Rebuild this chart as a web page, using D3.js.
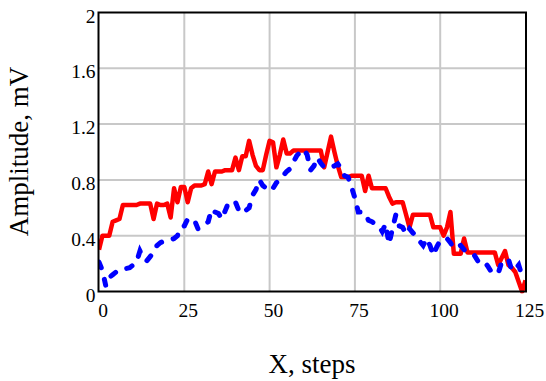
<!DOCTYPE html>
<html>
<head>
<meta charset="utf-8">
<script src="https://cdn.jsdelivr.net/npm/d3@7/dist/d3.min.js"></script>
<style>
  body { margin: 0; background: #fff; }
  svg text { font-family: "Liberation Serif", "Times New Roman", serif; fill: #000; }
</style>
</head>
<body>
<div id="chart"></div>
<script>
// signal amplitudes (mV) per step
var redSeries = [
  0.30, 0.40, 0.40, 0.40, 0.50, 0.51, 0.52, 0.62, 0.62, 0.62,
  0.62, 0.62, 0.63, 0.63, 0.63, 0.63, 0.52, 0.63, 0.62, 0.62,
  0.63, 0.53, 0.74, 0.64, 0.75, 0.75, 0.64, 0.74, 0.76, 0.76,
  0.76, 0.77, 0.86, 0.77, 0.86, 0.86, 0.86, 0.87, 0.87, 0.87,
  0.96, 0.87, 0.97, 0.97, 1.08, 0.98, 0.90, 0.87, 0.87, 0.98,
  1.08, 1.07, 0.89, 0.98, 1.09, 0.99, 0.99, 1.01, 1.01, 1.01,
  1.01, 1.01, 1.01, 1.01, 1.01, 1.01, 0.89, 1.00, 1.11, 1.00,
  0.90, 0.82, 0.82, 0.82, 0.83, 0.83, 0.83, 0.83, 0.72, 0.83,
  0.74, 0.74, 0.74, 0.74, 0.74, 0.68, 0.63, 0.64, 0.64, 0.64,
  0.55, 0.46, 0.55, 0.55, 0.55, 0.55, 0.55, 0.55, 0.46, 0.46,
  0.46, 0.40, 0.46, 0.57, 0.27, 0.27, 0.27, 0.38, 0.28, 0.28,
  0.28, 0.28, 0.28, 0.28, 0.28, 0.28, 0.28, 0.19, 0.24, 0.29,
  0.19, 0.17, 0.14, 0.07, 0.00, 0.08
];
var blueSeries = [
  0.21, 0.15, 0.04, 0.10, 0.12, 0.14, 0.155, 0.16, 0.165, 0.17,
  0.19, 0.21, 0.29, 0.24, 0.22, 0.25, 0.28, 0.33, 0.35, 0.36,
  0.365, 0.37, 0.38, 0.40, 0.46, 0.47, 0.52, 0.52, 0.51, 0.45,
  0.46, 0.48, 0.50, 0.59, 0.57, 0.56, 0.52, 0.58, 0.64, 0.64,
  0.64, 0.58, 0.56, 0.58, 0.60, 0.69, 0.73, 0.80, 0.76, 0.74,
  0.72, 0.74, 0.78, 0.80, 0.83, 0.86, 0.88, 0.93, 0.975, 1.00,
  1.02, 0.98, 0.87, 0.90, 0.96, 0.92, 0.89, 0.89, 0.89, 0.90,
  0.915, 0.88, 0.83, 0.82, 0.75, 0.67, 0.57, 0.57, 0.56, 0.51,
  0.50, 0.485, 0.47, 0.43, 0.485, 0.34, 0.45, 0.55, 0.47, 0.46,
  0.41, 0.45, 0.42, 0.40, 0.36, 0.33, 0.38, 0.33, 0.26, 0.32,
  0.365, 0.37, 0.38, 0.35, 0.31, 0.32, 0.33, 0.30, 0.28, 0.27,
  0.26, 0.22, 0.20, 0.21, 0.18, 0.14, 0.14, 0.13, 0.21, 0.22,
  0.23, 0.15, 0.16, 0.19, 0.11, 0.10
];
var xTicks = [0, 25, 50, 75, 100, 125];
var yTicks = [0, 0.4, 0.8, 1.2, 1.6, 2];

var width = 546, height = 381;
var margin = {top: 12.5, right: 20, bottom: 89.5, left: 99};

var svg = d3.select("#chart").append("svg")
  .attr("width", width)
  .attr("height", height);

var xScale = d3.scaleLinear().domain([0, 125]).range([margin.left, 525.5]);
var yScale = d3.scaleLinear().domain([0, 2]).range([height - margin.bottom, margin.top]);

// grid
svg.append("g").selectAll("line")
  .data(xTicks.slice(1, -1))
  .enter().append("line")
  .attr("x1", function(d) { return xScale(d); })
  .attr("x2", function(d) { return xScale(d); })
  .attr("y1", yScale(0))
  .attr("y2", yScale(2))
  .attr("stroke", "#c8c8c8")
  .attr("stroke-width", 2);

svg.append("g").selectAll("line")
  .data(yTicks.slice(1, -1))
  .enter().append("line")
  .attr("x1", xScale(0))
  .attr("x2", xScale(125))
  .attr("y1", function(d) { return yScale(d); })
  .attr("y2", function(d) { return yScale(d); })
  .attr("stroke", "#c8c8c8")
  .attr("stroke-width", 2);

// lines
var line = function(vals) {
  return d3.line()
    .x(function(d, i) { return xScale(i); })
    .y(function(d) { return yScale(d); })(vals);
};

svg.append("defs").append("clipPath").attr("id", "plotclip")
  .append("rect")
  .attr("x", xScale(0)).attr("y", yScale(2) - 3)
  .attr("width", xScale(125) - xScale(0) + 1)
  .attr("height", yScale(0) - yScale(2) + 5);

var plot = svg.append("g").attr("clip-path", "url(#plotclip)");

plot.append("path")
  .attr("d", line(redSeries))
  .attr("fill", "none")
  .attr("stroke", "#ff0000")
  .attr("stroke-width", 4.5)
  .attr("stroke-linejoin", "round");

plot.append("path")
  .attr("d", line(blueSeries))
  .attr("fill", "none")
  .attr("stroke", "#0000ff")
  .attr("stroke-width", 5)
  .attr("stroke-linecap", "round")
  .attr("stroke-dasharray", "6,12");

// frame
svg.append("rect")
  .attr("x", xScale(0) - 0.5)
  .attr("y", yScale(2))
  .attr("width", xScale(125) - xScale(0) + 1)
  .attr("height", yScale(0) - yScale(2))
  .attr("fill", "none")
  .attr("stroke", "#000")
  .attr("stroke-width", 2);

// tick labels
svg.append("g").selectAll("text")
  .data(yTicks)
  .enter().append("text")
  .attr("x", 95.5)
  .attr("y", function(d) { return yScale(d) + 10; })
  .attr("text-anchor", "end")
  .attr("font-size", "19.5px")
  .text(function(d) { return d3.format("")(d); });

svg.append("g").selectAll("text")
  .data(xTicks)
  .enter().append("text")
  .attr("x", function(d) { return xScale(d) + 4; })
  .attr("y", 317)
  .attr("text-anchor", "middle")
  .attr("font-size", "19.5px")
  .text(function(d) { return d; });

// axis titles
svg.append("text")
  .attr("transform", "translate(28,151.5) rotate(-90)")
  .attr("text-anchor", "middle")
  .attr("font-size", "27px")
  .text("Amplitude, mV");

svg.append("text")
  .attr("x", 312)
  .attr("y", 372.5)
  .attr("text-anchor", "middle")
  .attr("font-size", "27px")
  .text("X, steps");
</script>
</body>
</html>
